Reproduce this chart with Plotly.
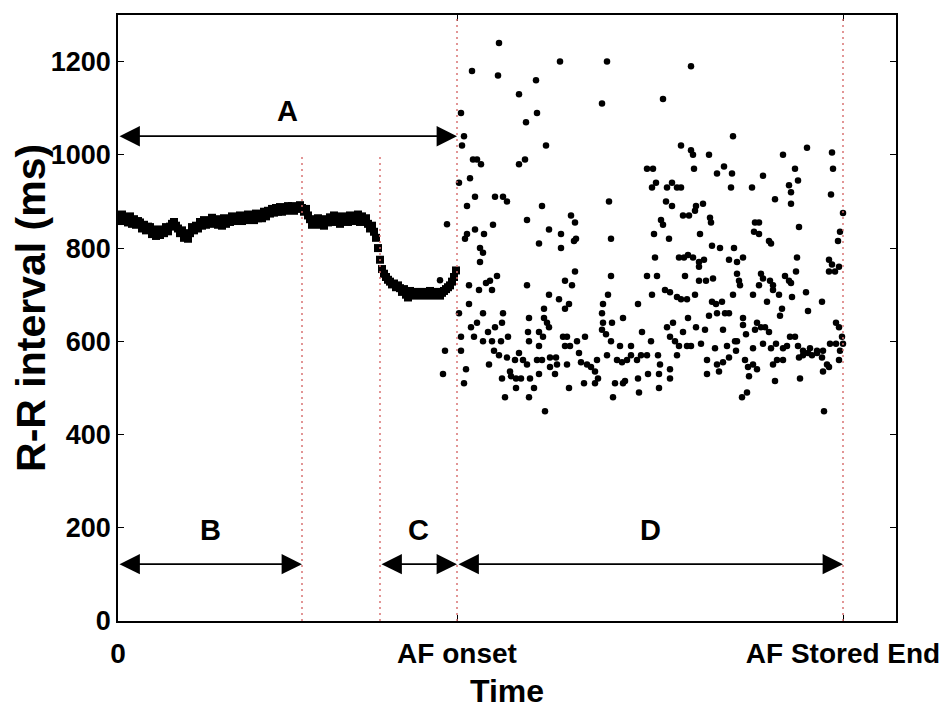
import plotly.graph_objects as go

# time axis: arbitrary units, 0 = start of stored episode
t_onset = 339
t_end = 725
t_max = 778

# sinus rhythm + pre-AF phase, one beat every 2 time units
sinus_rr = [
    870, 858, 872, 860, 866, 855,
    868, 852, 862, 850, 858,
    855, 842, 850, 838, 846,
    845, 830, 840, 826, 836,
    828, 840, 832, 845, 836,
    846, 852, 856, 848,
    842, 832, 838, 822, 830, 820,
    832, 845, 838, 848,
    842, 856, 848, 860, 850, 858,
    852, 865, 855, 862, 850,
    860, 848, 864, 852, 860,
    856, 868, 858, 866, 860,
    870, 858, 868, 860, 872,
    862, 870, 860, 874, 864,
    872, 864, 878, 868, 880,
    874, 884, 876, 886, 878,
    888, 878, 886, 880, 890,
    882, 890, 880, 888, 884, 892,
    886, 878, 884, 870,
    862, 850, 858,
    852, 864, 850, 860, 848, 862, 855,
    866, 856, 870, 858, 864, 852, 868, 860, 866, 856,
    870, 858, 866, 862, 872, 856, 868, 860, 864,
    852, 842, 848,
    835, 822,
    800,
    775,
    755, 745, 738, 732, 728,
    722, 724, 716, 720,
    714, 706, 712, 700, 694,
    708, 700, 706, 698, 704,
    700, 706, 698, 704, 700, 708, 698, 704, 700, 706, 698, 704,
    708, 712, 716,
    720, 728, 738, 752,
]
sinus_t = [2 * i for i in range(len(sinus_rr))]

# a few ectopic beats just before onset
ectopic_t = [322, 329, 327, 325]
ectopic_rr = [731, 851, 580, 530]

# AF beats
af_t = [
    381, 354, 380, 442, 489, 573, 418, 401, 545, 484,
    343, 419, 408, 346, 615, 344, 428, 563, 689, 573,
    575, 591, 665, 714, 355, 359, 363, 401, 407, 529,
    535, 576, 599, 606, 614, 677, 715, 645, 341, 352,
    534, 538, 549, 554, 559, 563, 613, 634, 671, 673,
    680, 713, 349, 357, 377, 385, 389, 424, 491, 548,
    554, 578, 585, 577, 657, 673, 725, 375, 409, 453,
    457, 543, 545, 565, 571, 592, 593, 637, 641, 681,
    347, 349, 357, 366, 431, 443, 536, 551, 582, 636,
    641, 722, 421, 456, 458, 493, 651, 653, 720, 362,
    365, 443, 594, 602, 616, 362, 537, 561, 566, 570,
    575, 581, 586, 581, 611, 619, 625, 679, 711, 714,
    717, 711, 351, 361, 368, 372, 374, 379, 409, 447,
    454, 457, 493, 529, 539, 567, 581, 588, 595, 619,
    621, 622, 643, 645, 641, 655, 652, 667, 671, 673,
    678, 721, 351, 365, 385, 341, 431, 441, 447, 451,
    426, 490, 485, 520, 534, 547, 552, 559, 563, 569,
    577, 594, 598, 604, 599, 607, 611, 591, 570, 615,
    635, 649, 655, 661, 664, 674, 688, 690, 704, 718,
    721, 724, 353, 359, 356, 365, 370, 377, 384, 374,
    383, 390, 411, 410, 421, 426, 429, 431, 411, 421,
    425, 445, 449, 452, 459, 467, 447, 484, 485, 484,
    488, 494, 505, 493, 502, 513, 524, 533, 549, 555,
    552, 557, 561, 565, 569, 573, 578, 587, 583, 597,
    605, 609, 617, 619, 625, 625, 628, 637, 635, 639,
    643, 647, 651, 645, 653, 658, 662, 665, 672, 677,
    669, 680, 685, 692, 699, 705, 712, 718, 725, 722,
    376, 381, 389, 397, 401, 405, 409, 419, 424, 432,
    438, 439, 449, 461, 463, 469, 473, 477, 479, 489,
    499, 504, 509, 513, 519, 523, 529, 540, 542, 552,
    559, 589, 599, 605, 611, 618, 627, 630, 635, 639,
    655, 659, 665, 681, 685, 690, 694, 699, 704, 709,
    721, 371, 384, 392, 393, 398, 403, 412, 421, 432,
    437, 466, 477, 480, 497, 505, 507, 520, 530, 541,
    552, 589, 601, 631, 657, 682, 705, 711, 346, 348,
    343, 343, 387, 411, 398, 416, 427, 451, 495, 521,
    541, 624, 629, 706,
]
af_rr = [
    1240, 1180, 1170, 1200, 1200, 1190, 1160, 1130, 1120, 1110,
    1090, 1090, 1070, 1040, 1040, 1020, 1020, 1020, 1015, 1010,
    1000, 1000, 1000, 1005, 990, 990, 980, 980, 990, 970,
    970, 970, 960, 975, 960, 970, 970, 955, 940, 950,
    930, 940, 930, 940, 930, 930, 930, 930, 935, 920,
    945, 915, 890, 910, 910, 910, 900, 890, 900, 900,
    890, 890, 895, 880, 905, 895, 875, 850, 860, 870,
    855, 860, 850, 870, 870, 865, 855, 855, 855, 845,
    820, 830, 840, 830, 840, 830, 830, 820, 830, 835,
    830, 835, 810, 815, 820, 820, 815, 810, 815, 800,
    790, 800, 805, 800, 800, 770, 780, 780, 780, 785,
    780, 770, 775, 760, 775, 770, 780, 780, 775, 765,
    750, 750, 720, 710, 725, 730, 710, 740, 720, 730,
    720, 750, 740, 740, 740, 740, 730, 730, 735, 745,
    730, 720, 745, 735, 720, 720, 730, 740, 730, 725,
    750, 760, 680, 660, 660, 660, 700, 690, 670, 680,
    670, 700, 680, 680, 700, 710, 705, 695, 690, 690,
    700, 685, 680, 685, 660, 660, 660, 655, 650, 700,
    700, 685, 710, 700, 670, 695, 705, 665, 685, 640,
    630, 610, 630, 640, 610, 600, 620, 630, 640, 600,
    600, 610, 650, 620, 620, 650, 640, 630, 600, 590,
    610, 610, 610, 590, 600, 610, 590, 660, 640, 625,
    615, 640, 650, 600, 590, 590, 620, 600, 630, 640,
    610, 600, 590, 620, 590, 590, 630, 625, 595, 585,
    625, 590, 600, 600, 650, 635, 615, 625, 585, 640,
    630, 630, 620, 595, 585, 595, 655, 585, 610, 610,
    590, 590, 580, 585, 580, 580, 595, 595, 595, 580,
    580, 570, 565, 560, 575, 560, 550, 560, 560, 565,
    565, 550, 550, 575, 555, 550, 545, 535, 560, 570,
    560, 555, 560, 570, 560, 570, 570, 570, 550, 540,
    570, 560, 550, 555, 565, 580, 560, 545, 550, 540,
    550, 560, 560, 565, 570, 575, 570, 575, 565, 550,
    560, 550, 520, 535, 525, 520, 520, 520, 530, 545,
    530, 510, 510, 520, 510, 510, 515, 520, 530, 530,
    520, 530, 535, 525, 515, 520, 535, 545, 510, 540,
    580, 610, 480, 480, 500, 500, 450, 500, 480, 490,
    500, 480, 490, 450,
]

# phase boundaries (dotted red lines)
short_lines = [184, 262]
full_lines = [t_onset, t_end]
short_top = 1000

# labelled intervals: (label, start, end, arrow level, label level)
intervals = [
    ("A", 0, t_onset, 1040, 1093),
    ("B", 0, 184, 122, 195),
    ("C", 262, t_onset, 122, 195),
    ("D", t_onset, t_end, 122, 195),
]

FONT = "Liberation Sans, Arial, sans-serif"

fig = go.Figure()

fig.add_trace(go.Scatter(x=sinus_t, y=sinus_rr, mode="markers",
                         marker=dict(symbol="square", size=8, color="black"),
                         hoverinfo="skip", showlegend=False))
fig.add_trace(go.Scatter(x=ectopic_t + af_t, y=ectopic_rr + af_rr, mode="markers",
                         marker=dict(symbol="circle", size=6.5, color="black"),
                         hoverinfo="skip", showlegend=False))

dot_col = "rgba(215,110,110,0.9)"
for xv in short_lines:
    fig.add_shape(type="line", x0=xv, x1=xv, y0=0, y1=short_top, xref="x", yref="y",
                  line=dict(color=dot_col, width=1.6, dash="2px,4px"))
for xv in full_lines:
    fig.add_shape(type="line", x0=xv, x1=xv, y0=0, y1=1300, xref="x", yref="y",
                  line=dict(color=dot_col, width=1.6, dash="2px,4px"))

for lab, x0, x1, ya, yl in intervals:
    fig.add_annotation(x=x1, y=ya, ax=x0, ay=ya, xref="x", yref="y", axref="x", ayref="y",
                       text="", showarrow=True, arrowhead=2, startarrowhead=2,
                       arrowside="end+start", arrowsize=2.4, startarrowsize=2.4,
                       arrowwidth=1.7, arrowcolor="black", standoff=0, startstandoff=0)
    fig.add_annotation(x=(x0 + x1) / 2, y=yl, xref="x", yref="y", text=lab,
                       showarrow=False,
                       font=dict(family=FONT, size=29, color="black", weight="bold"))

# y axis title placed by hand (it sits a little above the axis centre)
fig.add_annotation(x=-0.111, y=0.516, xref="paper", yref="paper", text="R-R interval (ms)",
                   textangle=-90, showarrow=False, xanchor="center", yanchor="middle",
                   font=dict(family=FONT, size=41, color="black", weight="bold"))

fig.update_xaxes(range=[0, t_max], tickvals=[0, t_onset, t_end],
                 ticktext=["0", "AF onset", "AF Stored End"],
                 ticks="inside", ticklen=6, tickcolor="black", ticklabelstandoff=7,
                 showline=True, linecolor="black", linewidth=1.5, mirror="ticks",
                 showgrid=False, zeroline=False, automargin=False,
                 tickfont=dict(family=FONT, size=28, color="black", weight="bold"),
                 title=dict(text="Time", standoff=11,
                            font=dict(family=FONT, size=32, color="black", weight="bold")))
fig.update_yaxes(range=[0, 1300], tickvals=[0, 200, 400, 600, 800, 1000, 1200],
                 ticks="inside", ticklen=6, tickcolor="black",
                 showline=True, linecolor="black", linewidth=1.5, mirror="ticks",
                 showgrid=False, zeroline=False, automargin=False,
                 tickfont=dict(family=FONT, size=27, color="black", weight="bold"))

# the page body adds an 8 px offset, margins compensate for it
fig.update_layout(width=950, height=713, plot_bgcolor="white", paper_bgcolor="white",
                  margin=dict(l=110, r=62, t=7, b=100))

fig.write_html("out.html")
